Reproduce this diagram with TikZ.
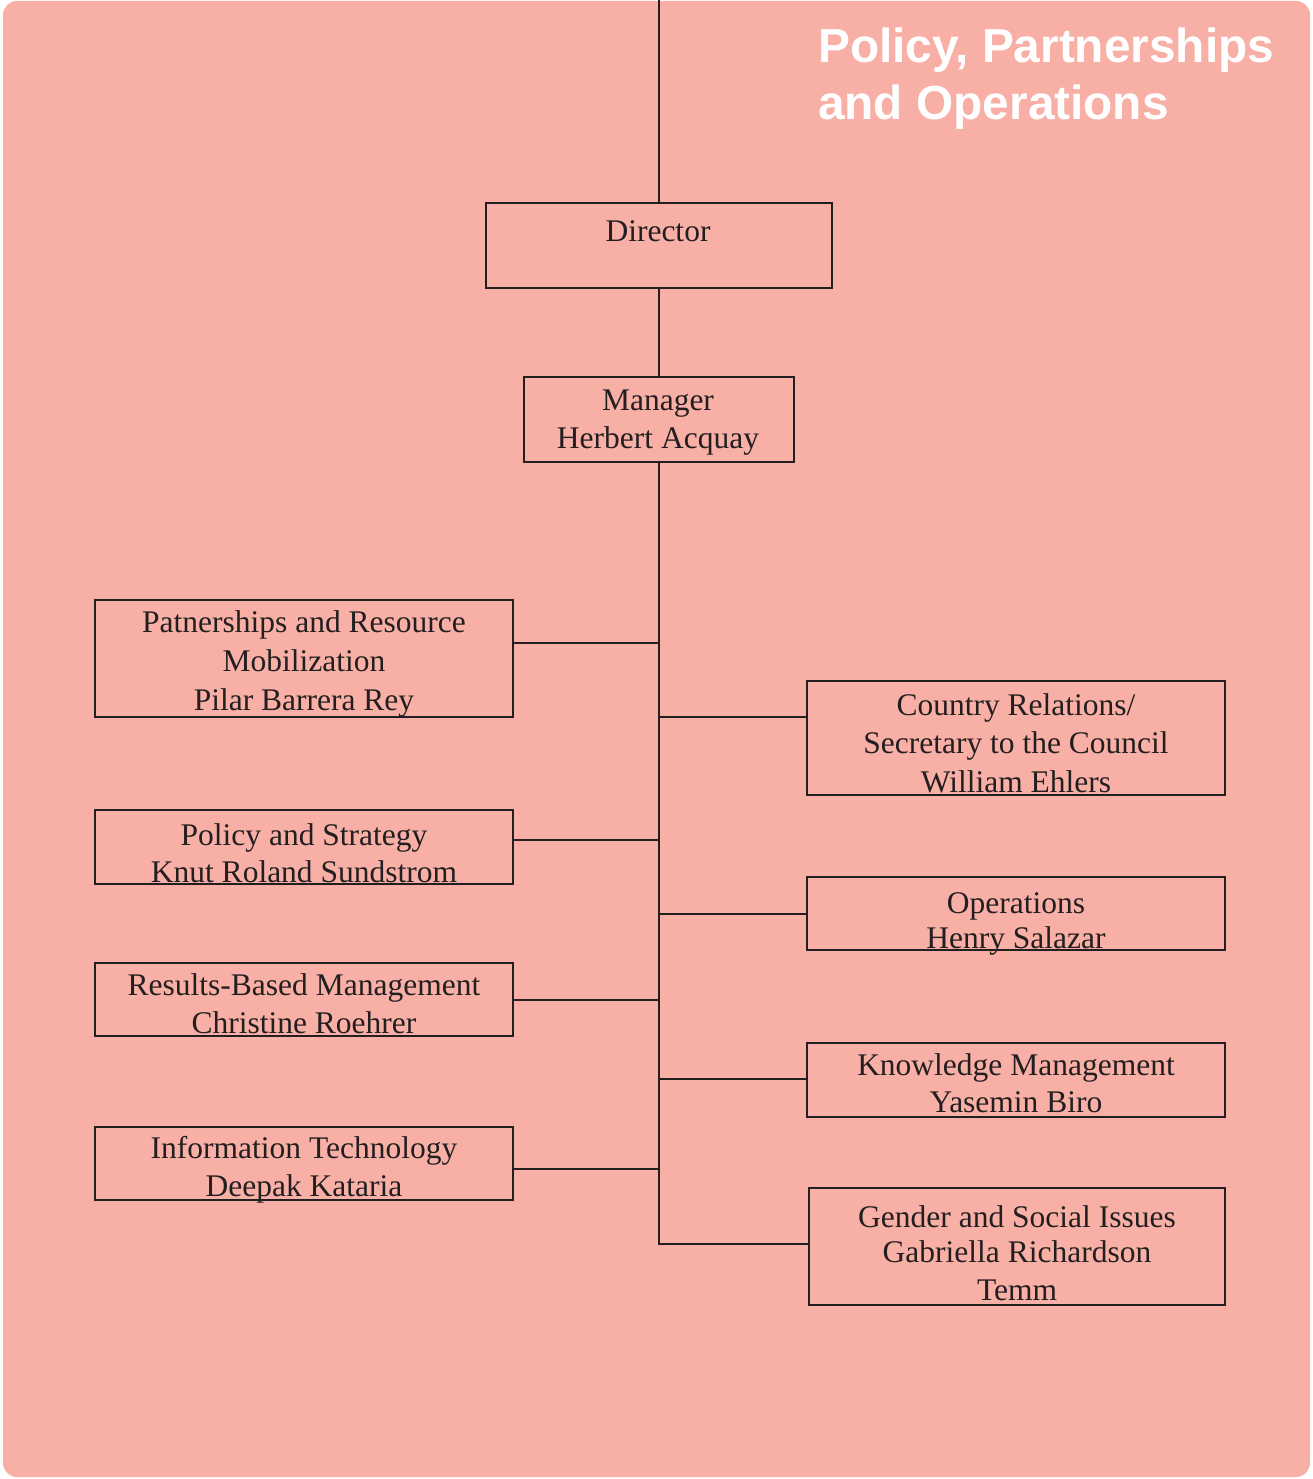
\documentclass[tikz,border=0pt]{standalone}
\usepackage{fontspec}
\setmainfont{Liberation Serif}
\newfontfamily\titlefont{Liberation Sans}
\definecolor{bg}{HTML}{F7AFA6}
\definecolor{ink}{HTML}{231F20}
\begin{document}
\begin{tikzpicture}[x=1pt,y=-1pt,
  box/.style={draw=ink, line width=2.6pt, inner sep=0pt, outer sep=0pt},
  lbl/.style={anchor=base, inner sep=0pt, align=center, text=ink, font=\fontsize{31.5}{38}\selectfont},
  conn/.style={draw=ink, line width=2.6pt}]
\useasboundingbox (0,0) rectangle (1313,1479);
\fill[bg, rounded corners=14pt] (3,1) rectangle (1310,1477);

% title (base anchor = last line baseline)
\node[anchor=base west, inner sep=0pt, align=left, text=white,
      font=\titlefont\bfseries\fontsize{47.8}{57}\selectfont] (title) at (818,120)
      {Policy, Partnerships\\and Operations};

% boxes
\node[box, minimum width=346pt, minimum height=85pt] (dir) at (659,245.5) {};
\node[box, minimum width=270pt, minimum height=85pt] (mgr) at (659,419.5) {};
\node[box, minimum width=418pt, minimum height=117pt] (pr) at (304,658.5) {};
\node[box, minimum width=418pt, minimum height=74pt] (ps) at (304,847) {};
\node[box, minimum width=418pt, minimum height=73pt] (rb) at (304,999.5) {};
\node[box, minimum width=418pt, minimum height=73pt] (it) at (304,1163.5) {};
\node[box, minimum width=418pt, minimum height=114pt] (cr) at (1016,738) {};
\node[box, minimum width=418pt, minimum height=73pt] (op) at (1016,913.5) {};
\node[box, minimum width=418pt, minimum height=74pt] (km) at (1016,1080) {};
\node[box, minimum width=416pt, minimum height=117pt] (gs) at (1017,1246.5) {};

% texts (base anchor = baseline of last line)
\node[lbl] (dir-t) at (658,242) {Director};
\node[lbl] (mgr-t) at (658,448) {Manager\\Herbert Acquay};
\node[lbl] (pr-t) at (304,710) {Patnerships and Resource\\[1pt]Mobilization\\[1pt]Pilar Barrera Rey};
\node[lbl] (ps-t) at (304,882) {Policy and Strategy\\[-1pt]Knut Roland Sundstrom};
\node[lbl] (rb-t) at (304,1033) {Results-Based Management\\Christine  Roehrer};
\node[lbl] (it-t) at (304,1196) {Information  Technology\\Deepak Kataria};
\node[lbl] (cr-t) at (1016,792) {Country Relations/\\Secretary to the Council\\[1pt]William Ehlers};
\node[lbl] (op-t) at (1016,948) {Operations\\[-3pt]Henry Salazar};
\node[lbl] (km-t) at (1016,1112) {Knowledge Management\\[-1pt]Yasemin Biro};
\node[lbl] (gs-t) at (1017,1300) {Gender and Social Issues\\[-3pt]Gabriella Richardson\\Temm};

% connectors
\coordinate (top) at (659,0);
\coordinate (tend) at (659,1245);
\coordinate (j1) at (659,643);
\coordinate (j2) at (659,717);
\coordinate (j3) at (659,840);
\coordinate (j4) at (659,914);
\coordinate (j5) at (659,1000);
\coordinate (j6) at (659,1079);
\coordinate (j7) at (659,1169);
\coordinate (j8) at (659,1244);

\draw[conn] (top) -- (dir.north);
\draw[conn] (dir.south) -- (mgr.north);
\draw[conn] (mgr.south) -- (tend);
\draw[conn] (pr.east |- j1) -- (j1);
\draw[conn] (ps.east |- j3) -- (j3);
\draw[conn] (rb.east |- j5) -- (j5);
\draw[conn] (it.east |- j7) -- (j7);
\draw[conn] (j2) -- (cr.west |- j2);
\draw[conn] (j4) -- (op.west |- j4);
\draw[conn] (j6) -- (km.west |- j6);
\draw[conn] (j8) -- (gs.west |- j8);
\end{tikzpicture}
\end{document}
